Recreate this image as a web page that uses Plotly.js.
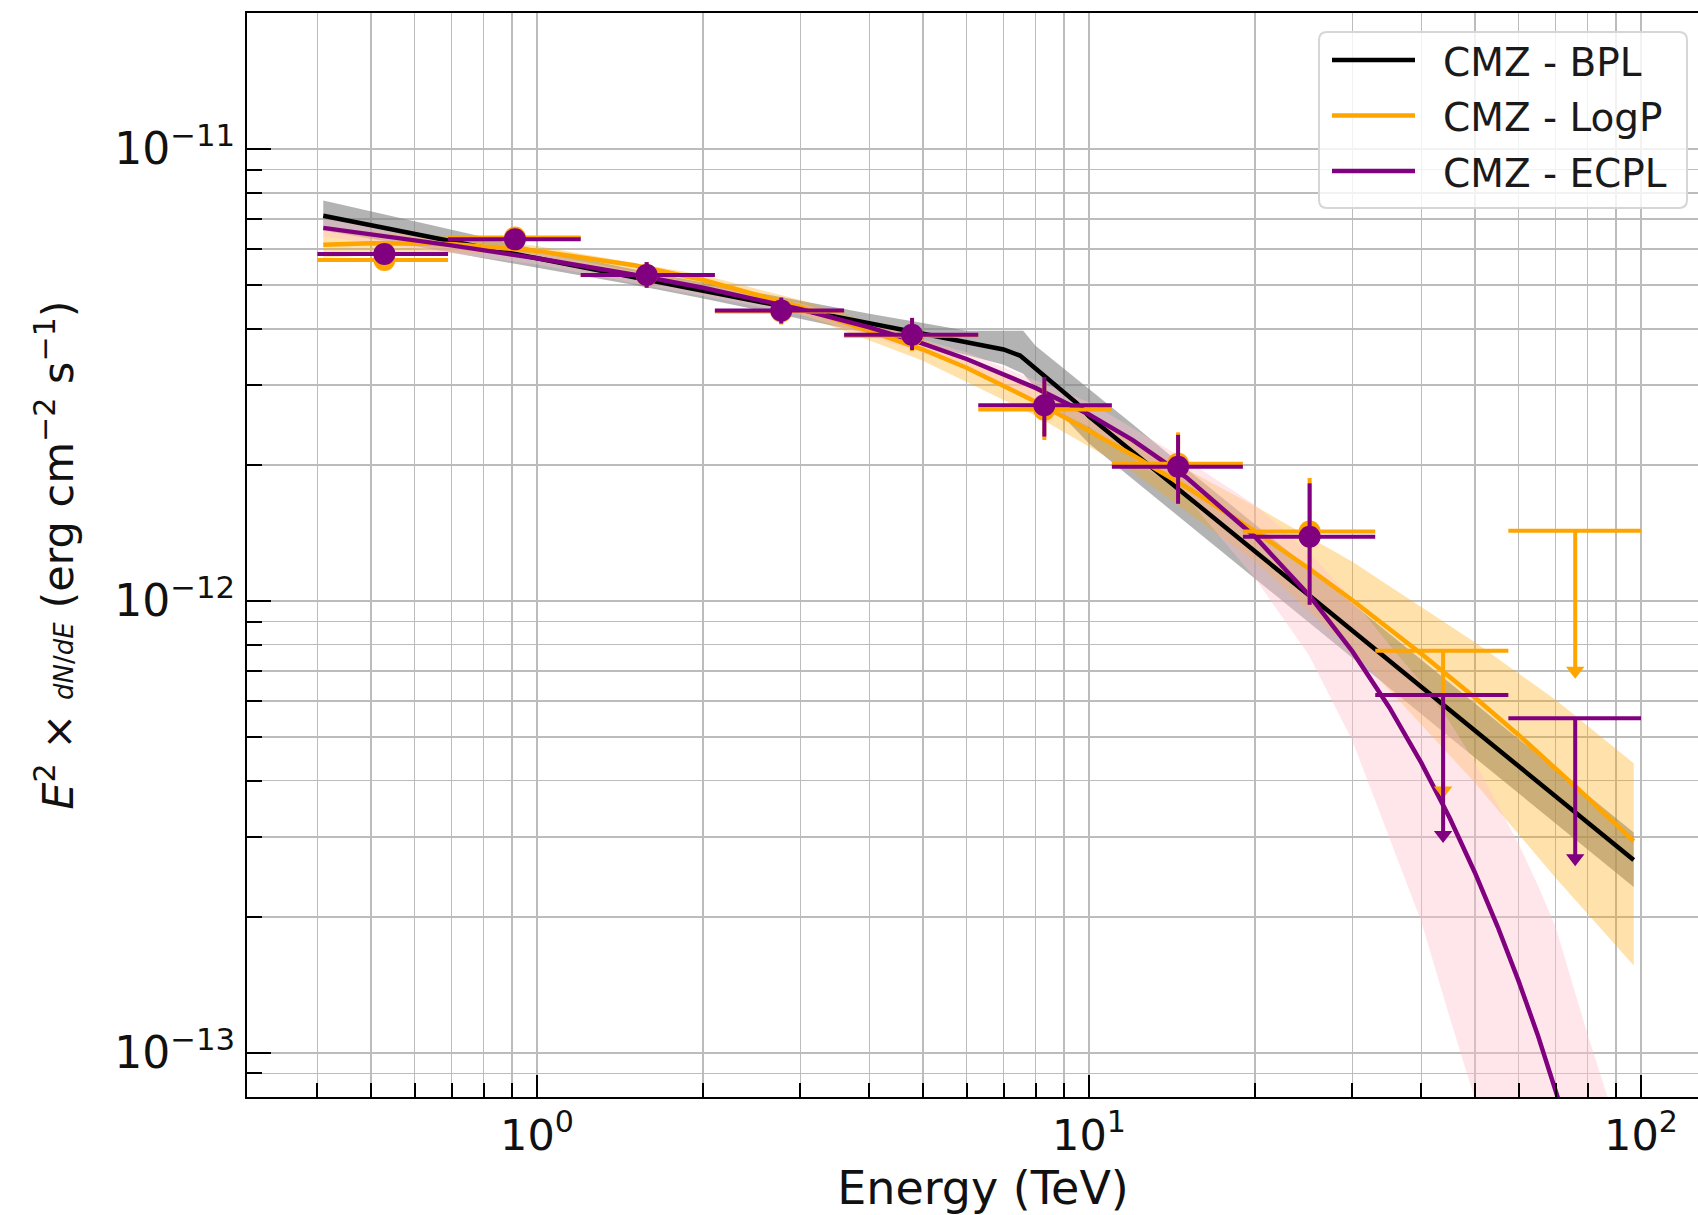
<!DOCTYPE html>
<html><head><meta charset="utf-8">
<script src="https://cdn.plot.ly/plotly-3.0.1.min.js"></script>
<style>
html,body{margin:0;padding:0;overflow:hidden;background:#fff;width:1698px;height:1215px}
#chart{width:1719px;height:1215px}
</style>
</head><body><div id="chart"></div>
<script>
// ---------------- data ----------------
// Broken power law (BPL) model curve
const bplE = [0.41, 0.5, 0.7, 1, 1.5, 2, 3, 4, 5, 6, 7, 7.5, 7.9, 8.4, 9.5, 10, 12, 15, 20, 25, 30, 40, 50, 60, 70, 80, 97];
const bplF = [7.12e-12, 6.77e-12, 6.25e-12, 5.73e-12, 5.20e-12, 4.86e-12, 4.41e-12, 4.11e-12, 3.90e-12, 3.73e-12, 3.60e-12, 3.49e-12, 3.31e-12, 3.10e-12, 2.74e-12, 2.56e-12, 2.14e-12, 1.71e-12, 1.286e-12, 1.03e-12, 0.859e-12, 0.645e-12, 0.517e-12, 0.431e-12, 0.370e-12, 0.324e-12, 0.267e-12];
// BPL uncertainty band
const bplBandE = [0.41, 0.7, 1, 1.5, 2, 3, 4, 5, 6, 7, 7.6, 8, 10, 12, 15, 20, 30, 50, 70, 97];
const bplBandUp = [7.69e-12, 6.62e-12, 6.00e-12, 5.41e-12, 5.06e-12, 4.62e-12, 4.32e-12, 4.12e-12, 3.96e-12, 3.96e-12, 3.96e-12, 3.67e-12, 2.95e-12, 2.46e-12, 1.964e-12, 1.476e-12, 0.986e-12, 0.594e-12, 0.425e-12, 0.307e-12];
const bplBandLo = [6.60e-12, 5.90e-12, 5.47e-12, 5.00e-12, 4.67e-12, 4.21e-12, 3.91e-12, 3.69e-12, 3.50e-12, 3.33e-12, 3.18e-12, 2.96e-12, 2.23e-12, 1.86e-12, 1.49e-12, 1.12e-12, 0.748e-12, 0.45e-12, 0.322e-12, 0.2326e-12];

// Log-parabola (LogP) model curve
const logpE = [0.41, 0.5, 0.7, 1, 1.5, 2, 3, 4, 5, 6, 7, 8, 10, 12, 15, 20, 25, 30, 40, 50, 60, 70, 80, 97];
const logpF = [6.14e-12, 6.19e-12, 6.16e-12, 5.95e-12, 5.53e-12, 5.13e-12, 4.47e-12, 3.96e-12, 3.60e-12, 3.28e-12, 3.00e-12, 2.76e-12, 2.38e-12, 2.10e-12, 1.787e-12, 1.425e-12, 1.18e-12, 1.0035e-12, 0.764e-12, 0.611e-12, 0.505e-12, 0.427e-12, 0.367e-12, 0.294e-12];
const logpBandE = [0.41, 0.7, 1, 2, 3, 5, 8, 12, 20, 30, 50, 70, 97];
const logpBandUp = [6.63e-12, 6.42e-12, 6.10e-12, 5.26e-12, 4.63e-12, 3.80e-12, 2.96e-12, 2.27e-12, 1.62e-12, 1.22e-12, 0.81e-12, 0.604e-12, 0.437e-12];
const logpBandLo = [5.75e-12, 5.91e-12, 5.80e-12, 5.00e-12, 4.31e-12, 3.40e-12, 2.57e-12, 1.93e-12, 1.22e-12, 0.778e-12, 0.396e-12, 0.244e-12, 0.156e-12];

// Exponential cut-off power law (ECPL) model curve
const ecplE = [0.41, 0.5, 0.7, 1, 1.5, 2, 3, 4, 5, 6, 7, 8, 10, 12, 15, 20, 25, 30, 35, 40, 45, 50, 55, 60, 65, 70, 75];
const ecplF = [6.69e-12, 6.48e-12, 6.12e-12, 5.73e-12, 5.27e-12, 4.93e-12, 4.42e-12, 4.03e-12, 3.71e-12, 3.43e-12, 3.18e-12, 2.96e-12, 2.585e-12, 2.268e-12, 1.876e-12, 1.385e-12, 1.032e-12, 0.773e-12, 0.581e-12, 0.438e-12, 0.331e-12, 0.2506e-12, 0.190e-12, 0.1442e-12, 0.1095e-12, 0.0833e-12, 0.0634e-12];
const ecplBandE = [0.41, 1, 3, 6, 10, 15, 20, 25, 30, 35, 40, 45, 50, 55, 60, 65, 70, 80, 90];
const ecplBandUp = [7.0e-12, 5.9e-12, 4.55e-12, 3.55e-12, 2.75e-12, 2.05e-12, 1.63e-12, 1.28e-12, 1.01e-12, 0.80e-12, 0.66e-12, 0.54e-12, 0.44e-12, 0.355e-12, 0.29e-12, 0.235e-12, 0.19e-12, 0.11e-12, 0.07e-12];
const ecplBandLo = [6.4e-12, 5.55e-12, 4.3e-12, 3.3e-12, 2.43e-12, 1.70e-12, 1.12e-12, 0.76e-12, 0.49e-12, 0.30e-12, 0.195e-12, 0.12e-12, 0.079e-12, 0.05e-12, 0.03e-12, 0.02e-12, 0.015e-12, 0.01e-12, 0.005e-12];

// Flux points: bin centres and edges (TeV)
const ptE   = [0.529, 0.912, 1.58, 2.77, 4.78, 8.30, 14.5, 25.1];
const ptElo = [0.40, 0.69, 1.20, 2.10, 3.60, 6.30, 11.0, 19.0];
const ptEhi = [0.69, 1.20, 2.10, 3.60, 6.30, 11.0, 19.0, 33.0];
// ECPL flux points (purple)
const ecplPtF   = [5.86e-12, 6.31e-12, 5.26e-12, 4.39e-12, 3.88e-12, 2.71e-12, 1.98e-12, 1.387e-12];
const ecplPtFhi = [6.10e-12, 6.57e-12, 5.62e-12, 4.69e-12, 4.23e-12, 3.13e-12, 2.33e-12, 1.82e-12];
const ecplPtFlo = [5.62e-12, 6.06e-12, 4.93e-12, 4.11e-12, 3.59e-12, 2.31e-12, 1.64e-12, 0.98e-12];
// LogP flux points (orange)
const logpPtF   = [5.68e-12, 6.37e-12, 5.26e-12, 4.37e-12, 3.86e-12, 2.65e-12, 2.01e-12, 1.424e-12];
const logpPtFhi = [5.92e-12, 6.62e-12, 5.62e-12, 4.67e-12, 4.21e-12, 3.05e-12, 2.36e-12, 1.87e-12];
const logpPtFlo = [5.45e-12, 6.12e-12, 4.93e-12, 4.09e-12, 3.57e-12, 2.27e-12, 1.67e-12, 1.01e-12];
// Upper limits
const ulE   = [43.8, 76.0];
const ulElo = [33.0, 57.5];
const ulEhi = [57.5, 100];
const ecplUL = [6.19e-13, 5.50e-13];
const logpUL = [7.76e-13, 1.43e-12];

// ticks
const xTickVals = [1, 10, 100];
const xTickText = ['10<sup>0</sup>', '10<sup>1</sup>', '10<sup>2</sup>'];
const xMinorVals = [0.4,0.5,0.6,0.7,0.8,0.9,2,3,4,5,6,7,8,9,20,30,40,50,60,70,80,90];
const yTickVals = [1e-13, 1e-12, 1e-11];
const yTickText = ['10<sup>\u221213</sup>', '10<sup>\u221212</sup>', '10<sup>\u221211</sup>'];
const yMinorVals = [8e-14,9e-14,2e-13,3e-13,4e-13,5e-13,6e-13,7e-13,8e-13,9e-13,2e-12,3e-12,4e-12,5e-12,6e-12,7e-12,8e-12,9e-12];

const legendLabels = ['CMZ - BPL', 'CMZ - LogP', 'CMZ - ECPL'];
const legendColors = ['black', 'orange', 'purple'];

const xTitle = 'Energy (TeV)';
const yTitle = '<i>E</i><sup>2</sup> \u00d7 <span style="font-size:26px"><i>dN</i>/<i>dE</i></span> (erg cm<sup>\u22122</sup> s<sup>\u22121</sup>)';

// ---------------- styles ----------------
const FONT = 'DejaVu Sans, sans-serif';
const ARROW = 0.49; // length of the upper-limit arrows (ratio)
const GRID = '#bcbcbc';

function band(E, up, lo, color) {
  return {x: E.concat(E.slice().reverse()), y: up.concat(lo.slice().reverse()),
    mode: 'lines', fill: 'toself', fillcolor: color, line: {width: 0}, hoverinfo: 'skip', showlegend: false};
}
function line(E, F, color) {
  return {x: E, y: F, mode: 'lines', line: {color: color, width: 4.5}, hoverinfo: 'skip', showlegend: false};
}
function points(F, Fhi, Flo, color) {
  return {x: ptE, y: F, mode: 'markers', marker: {color: color, size: 22},
    error_x: {type: 'data', symmetric: false, array: ptEhi.map((v, i) => v - ptE[i]), arrayminus: ptE.map((v, i) => v - ptElo[i]), color: color, thickness: 4, width: 0},
    error_y: {type: 'data', symmetric: false, array: Fhi.map((v, i) => v - F[i]), arrayminus: F.map((v, i) => v - Flo[i]), color: color, thickness: 4, width: 0},
    hoverinfo: 'skip', showlegend: false};
}
function uls(UL, color) {
  return [
    {x: ulE, y: UL, mode: 'markers', marker: {color: color, size: 1, opacity: 0},
     error_x: {type: 'data', symmetric: false, array: ulEhi.map((v, i) => v - ulE[i]), arrayminus: ulE.map((v, i) => v - ulElo[i]), color: color, thickness: 4, width: 0},
     error_y: {type: 'data', symmetric: false, array: UL.map(() => 0), arrayminus: UL.map(v => v * (1 - ARROW)), color: color, thickness: 4, width: 0},
     hoverinfo: 'skip', showlegend: false},
    {x: ulE, y: UL.map(v => v * ARROW), mode: 'markers', marker: {color: color, size: 16, symbol: 'triangle-down'}, hoverinfo: 'skip', showlegend: false}
  ];
}

const traces = [
  band(bplBandE, bplBandUp, bplBandLo, 'rgba(128,128,128,0.6)'),
  band(logpBandE, logpBandUp, logpBandLo, 'rgba(255,165,0,0.33)'),
  band(ecplBandE, ecplBandUp, ecplBandLo, 'rgba(255,192,203,0.4)'),
  line(bplE, bplF, 'black'),
  line(logpE, logpF, 'orange'),
  line(ecplE, ecplF, 'purple'),
  points(logpPtF, logpPtFhi, logpPtFlo, 'orange'),
  ...uls(logpUL, 'orange'),
  points(ecplPtF, ecplPtFhi, ecplPtFlo, 'purple'),
  ...uls(ecplUL, 'purple')
];

// ---------------- legend (drawn as shapes + text) ----------------
const PW = 1472, PH = 1084; // plot area size in px
const px = v => (v - 247) / PW, py = v => 1 - (v - 13) / PH;
const lx0 = px(1319), lx1 = px(1687), ly0 = py(208), ly1 = py(32);
const rx = 8 / PW, ry = 8 / PH;
const boxPath = `M${lx0+rx},${ly1} L${lx1-rx},${ly1} Q${lx1},${ly1} ${lx1},${ly1-ry} L${lx1},${ly0+ry} Q${lx1},${ly0} ${lx1-rx},${ly0} L${lx0+rx},${ly0} Q${lx0},${ly0} ${lx0},${ly0+ry} L${lx0},${ly1-ry} Q${lx0},${ly1} ${lx0+rx},${ly1} Z`;
const shapes = [{type: 'path', xref: 'paper', yref: 'paper', path: boxPath, fillcolor: 'rgba(255,255,255,0.8)', line: {color: '#d6d6d6', width: 2}}];
const annotations = [];
const rowsY = [60, 115.5, 171];
legendLabels.forEach((lab, i) => {
  shapes.push({type: 'line', xref: 'paper', yref: 'paper', x0: px(1332), x1: px(1415), y0: py(rowsY[i]), y1: py(rowsY[i]), line: {color: legendColors[i], width: 4.5}});
  annotations.push({xref: 'paper', yref: 'paper', x: px(1441), y: py(rowsY[i] + 2), xanchor: 'left', yanchor: 'middle', showarrow: false, text: lab, font: {family: FONT, size: 39, color: '#1a1a1a'}});
});

const layout = {
  width: 1719, height: 1215,
  margin: {l: 247, r: 0, t: 13, b: 118, pad: 0},
  paper_bgcolor: 'white', plot_bgcolor: 'white',
  showlegend: false,
  xaxis: {type: 'log', range: [-0.5254, 2.1413], autorange: false,
    showline: true, linecolor: 'black', linewidth: 2, mirror: true, zeroline: false,
    ticks: 'inside', ticklen: 22, tickwidth: 2, tickcolor: 'black',
    tickmode: 'array', tickvals: xTickVals, ticktext: xTickText,
    tickfont: {family: FONT, size: 43, color: '#111'}, ticklabelstandoff: -1,
    showgrid: true, gridcolor: GRID, gridwidth: 1.6,
    minor: {tickmode: 'array', tickvals: xMinorVals, ticks: 'inside', ticklen: 14, tickwidth: 2, tickcolor: 'black', showgrid: true, gridcolor: GRID, gridwidth: 1.6},
    title: {text: xTitle, font: {family: FONT, size: 46, color: '#111'}, standoff: 14},
    automargin: false},
  yaxis: {type: 'log', range: [-13.098, -10.699], autorange: false,
    showline: true, linecolor: 'black', linewidth: 2, mirror: true, zeroline: false,
    ticks: 'inside', ticklen: 24, tickwidth: 2, tickcolor: 'black',
    tickmode: 'array', tickvals: yTickVals, ticktext: yTickText,
    tickfont: {family: FONT, size: 44, color: '#111'}, ticklabelstandoff: 1,
    showgrid: true, gridcolor: GRID, gridwidth: 1.6,
    minor: {tickmode: 'array', tickvals: yMinorVals, ticks: 'inside', ticklen: 15, tickwidth: 2, tickcolor: 'black', showgrid: true, gridcolor: GRID, gridwidth: 1.6},
    title: {text: yTitle, font: {family: FONT, size: 43, color: '#111'}, standoff: 27},
    automargin: false},
  shapes: shapes,
  annotations: annotations
};

Plotly.newPlot('chart', traces, layout, {displayModeBar: false, staticPlot: true});
</script></body></html>
